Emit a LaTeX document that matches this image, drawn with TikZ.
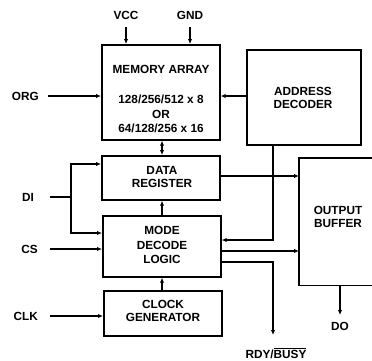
\documentclass[tikz,border=0pt]{standalone}
\usepackage{fontspec}
\setmainfont{Liberation Sans}
\usetikzlibrary{arrows.meta}
\begin{document}
\begin{tikzpicture}[x=1pt,y=-1pt,
  font=\fontsize{11.8}{13}\selectfont\bfseries,
  blk/.style={draw,line width=1.7pt,inner sep=0pt,anchor=north west},
  lbl/.style={inner sep=0pt},
  sig/.style={line width=1.4pt,-{Latex[length=5pt,width=4.5pt]}},
  wire/.style={line width=1.4pt},
  dbl/.style={line width=1.4pt,{Latex[length=5pt,width=4.5pt]}-{Latex[length=5pt,width=4.5pt]}}]
\useasboundingbox (0,0) rectangle (372,360);
% blocks
\node[blk,minimum width=118pt,minimum height=95pt] (mem) at (101,44) {};
\node[blk,minimum width=114pt,minimum height=95pt] (addr) at (246,49) {};
\node[blk,minimum width=118pt,minimum height=44pt] (data) at (101,155) {};
\node[blk,minimum width=118pt,minimum height=61pt] (mode) at (102,215) {};
\node[blk,minimum width=118pt,minimum height=45pt] (clk) at (103,290) {};
\node[inner sep=0pt,minimum width=73pt,minimum height=127pt,anchor=north west] (ob) at (299,158) {};
\draw[line width=1.7pt] (ob.north east) -- (ob.north west) -- (ob.south west) -- (ob.south east);
% block texts
\node[lbl] (t1) at (161,69) {MEMORY ARRAY};
\node[lbl] (t2) at (161,99) {128/256/512 x 8};
\node[lbl] (t3) at (161,114) {OR};
\node[lbl] (t4) at (161,128) {64/128/256 x 16};
\node[lbl,align=center] (t5) at (303,98) {ADDRESS\\DECODER};
\node[lbl,align=center] (t6) at (162,177) {DATA\\REGISTER};
\node[lbl,align=center,font=\fontsize{11.8}{14.5}\selectfont\bfseries] (t7) at (162,245) {MODE\\DECODE\\LOGIC};
\node[lbl,align=center] (t8) at (163,311) {CLOCK\\GENERATOR};
\node[lbl,align=center] (t9) at (338,217) {OUTPUT\\BUFFER};
% external labels
\node[lbl] (vcc) at (126,15) {VCC};
\node[lbl] (gnd) at (190,15) {GND};
\node[lbl,anchor=east] (org) at (39,96) {ORG};
\node[lbl,anchor=east] (di) at (34,197) {DI};
\node[lbl,anchor=east] (cs) at (38,249) {CS};
\node[lbl,anchor=east] (ck) at (38,316) {CLK};
\node[lbl] (do) at (340,326) {DO};
\node[lbl] (rdy) at (276,353) {RDY/$\overline{\mbox{BUSY}}$};
% coordinates
\coordinate (vcc1) at (126,27);
\coordinate (gnd1) at (190,27);
\coordinate (org1) at (48,96);
\coordinate (di1) at (50,197);
\coordinate (di2) at (71,197);
\coordinate (cs1) at (50,249);
\coordinate (ck1) at (50,316);
\coordinate (rdy1) at (273,335);
\coordinate (do1) at (340,315);
% connectors
\draw[sig] (vcc1) -- (vcc1 |- mem.north);
\draw[sig] (gnd1) -- (gnd1 |- mem.north);
\draw[sig] (org1) -- (org1 -| mem.west);
\draw[sig] (addr.west |- 0,96) -- (mem.east |- 0,96);
\draw[dbl] (162,0 |- mem.south) -- (162,0 |- data.north);
\draw[sig] (data.east |- 0,176) -- (ob.west |- 0,176);
\draw[wire] (di1) -- (di2);
\draw[sig] (di2) |- (data.west |- 0,164);
\draw[sig] (di2) |- (mode.west |- 0,233);
\draw[sig] (cs1) -- (cs1 -| mode.west);
\draw[sig] (ck1) -- (ck1 -| clk.west);
\draw[sig] (addr.south -| 273,0) |- (mode.east |- 0,240);
\draw[sig] (mode.east |- 0,251) -- (ob.west |- 0,251);
\draw[sig] (mode.east |- 0,262) -| (rdy1);
\draw[sig] (mode.north -| 162,0) -- (data.south -| 162,0);
\draw[sig] (clk.north -| 162,0) -- (mode.south -| 162,0);
\draw[sig] (ob.south -| do1) -- (do1);
\end{tikzpicture}
\end{document}
